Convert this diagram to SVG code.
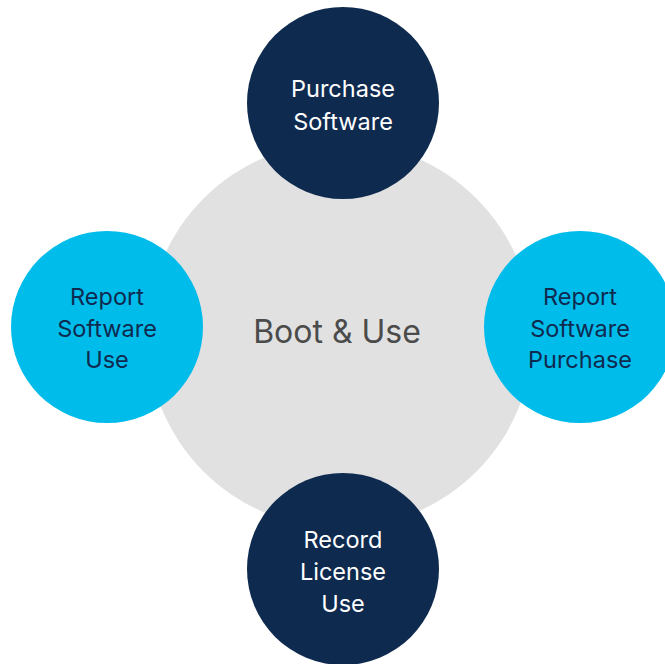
<svg xmlns="http://www.w3.org/2000/svg" width="665" height="664" viewBox="0 0 665 664">
  <style>
    .hub { fill: #e1e1e1; }
    .dark { fill: #0f2a4f; }
    .light { fill: #00bceb; }
    text { font-family: Inter, "Liberation Sans", Arial, sans-serif; text-anchor: middle; }
    .hub-label { font-size: 32px; fill: #4b4b4b; }
    .on-dark { font-size: 23.5px; fill: #ffffff; }
    .on-light { font-size: 23.5px; fill: #0f2a4f; }
  </style>
  <rect width="665" height="664" fill="#ffffff"/>
  <g id="hub">
    <circle class="hub" cx="340" cy="335" r="193"/>
    <text class="hub-label" x="337" y="343">Boot &amp; Use</text>
  </g>
  <g id="connectors"/>
  <g id="purchase-software">
    <circle class="dark" cx="343" cy="103" r="96"/>
    <text class="on-dark" x="343" y="97">Purchase</text>
    <text class="on-dark" x="343" y="129.5">Software</text>
  </g>
  <g id="report-software-use">
    <circle class="light" cx="107" cy="327" r="96"/>
    <text class="on-light" x="107" y="305">Report</text>
    <text class="on-light" x="107" y="336.7">Software</text>
    <text class="on-light" x="107" y="368.3">Use</text>
  </g>
  <g id="report-software-purchase">
    <circle class="light" cx="580" cy="327" r="96"/>
    <text class="on-light" x="580" y="305">Report</text>
    <text class="on-light" x="580" y="336.7">Software</text>
    <text class="on-light" x="580" y="368.3">Purchase</text>
  </g>
  <g id="record-license-use">
    <circle class="dark" cx="343" cy="569" r="96"/>
    <text class="on-dark" x="343" y="548.3">Record</text>
    <text class="on-dark" x="343" y="580">License</text>
    <text class="on-dark" x="343" y="611.7">Use</text>
  </g>
</svg>
